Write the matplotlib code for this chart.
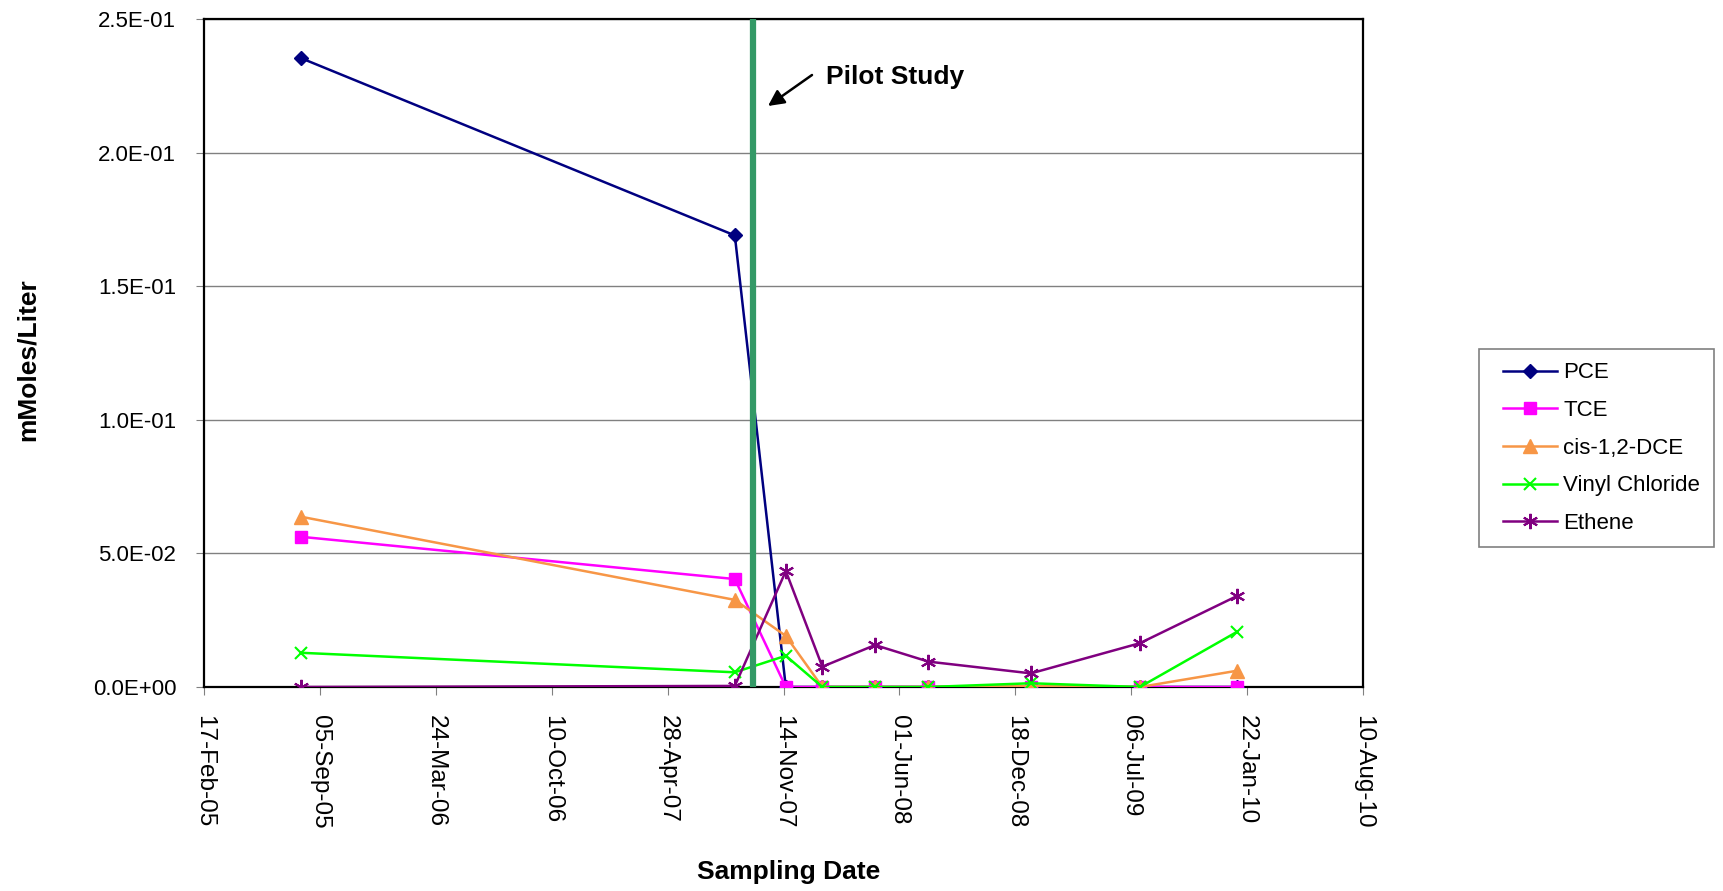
import matplotlib
matplotlib.use("Agg")
import matplotlib.pyplot as plt
import matplotlib.dates as mdates
import matplotlib.ticker as mticker
from matplotlib.legend_handler import HandlerLine2D
from matplotlib.lines import Line2D
from datetime import datetime, timedelta

plt.rcParams['font.family'] = ['Liberation Sans', 'DejaVu Sans']

# Sampling dates
dates = ["2005-08-04", "2007-08-22", "2007-11-18", "2008-01-20", "2008-04-20",
         "2008-07-21", "2009-01-14", "2009-07-21", "2010-01-05"]

# Concentrations, mMoles/Liter
pce = [0.2353, 0.1690, 0.0, 0.0, 0.0, 0.0, 0.0, 0.0, 0.0]
tce = [0.0562, 0.0404, 0.0, 0.0, 0.0, 0.0, 0.0, 0.0, 0.0]
dce = [0.0637, 0.0326, 0.0191, 0.0, 0.0, 0.0, 0.0003, 0.0, 0.0061]
vinyl_chloride = [0.0128, 0.0055, 0.0117, 0.0, 0.0, 0.0, 0.0014, 0.0, 0.0207]
ethene = [0.0, 0.0004, 0.0434, 0.0076, 0.0157, 0.0095, 0.0051, 0.0164, 0.0341]

pilot_date = "2007-09-23"
x_start = "2005-02-17"
x_end = "2010-08-10"
tick_step_days = 200

x = [datetime.strptime(d, "%Y-%m-%d") for d in dates]
start = datetime.strptime(x_start, "%Y-%m-%d")
end = datetime.strptime(x_end, "%Y-%m-%d")

W, H = 1723, 891
fig = plt.figure(figsize=(W / 100, H / 100), dpi=100)
ax = fig.add_axes([204 / W, 1 - 687 / H, (1363 - 204) / W, (687 - 19) / H])

lw = 1.8
ax.plot(x, pce, color="#000080", marker="D", markersize=7, lw=lw, label="PCE", zorder=3)
ax.plot(x, tce, color="#FF00FF", marker="s", markersize=9, lw=lw, label="TCE", zorder=4)
ax.plot(x, dce, color="#F79646", marker="^", markersize=10, lw=lw, label="cis-1,2-DCE", zorder=5)
ax.plot(x, vinyl_chloride, color="#00FF00", marker="x", markersize=9, mew=1.5, lw=lw,
        label="Vinyl Chloride", zorder=6)
ax.plot(x, ethene, color="#800080", marker=(6, 2, 0), markersize=11, mew=1.5, lw=lw,
        label="Ethene", zorder=7)

# Pilot study marker
pd_ = datetime.strptime(pilot_date, "%Y-%m-%d")
ax.axvline(pd_, color="#339966", lw=4.5, zorder=8)
ax.annotate("", xy=(768 / W, 1 - 106 / H), xycoords="figure fraction",
            xytext=(812 / W, 1 - 75 / H), textcoords="figure fraction",
            arrowprops=dict(arrowstyle="-|>", color="black", lw=1.8,
                            mutation_scale=24, shrinkA=0, shrinkB=0))
fig.text(826 / W, 1 - 77 / H, "Pilot Study", fontsize=19, fontweight="bold",
         ha="left", va="center")

ax.set_xlim(start, end)
ax.set_ylim(0, 0.25)
ticks = [start + timedelta(days=tick_step_days * i) for i in range(11)]
ax.set_xticks(ticks)
ax.xaxis.set_major_formatter(mdates.DateFormatter("%d-%b-%y"))
ax.yaxis.set_major_locator(mticker.MultipleLocator(0.05))
ax.yaxis.set_major_formatter(mticker.FuncFormatter(lambda v, p: f"{v:.1E}"))

ax.grid(axis="y", color="#808080", lw=1.0)
ax.set_axisbelow(True)
for s in ax.spines.values():
    s.set_color("black")
    s.set_linewidth(1.6)

ax.tick_params(axis="x", direction="out", length=6, color="#808080", labelsize=17.5,
               labelrotation=-90, pad=14)
ax.tick_params(axis="y", direction="out", length=6, color="#808080", labelsize=16, pad=14)
for lab in ax.get_xticklabels():
    lab.set_verticalalignment("top")
    lab.set_horizontalalignment("center")

fig.text(28 / W, 1 - 360 / H, "mMoles/Liter", fontsize=19, fontweight="bold",
         rotation=90, ha="center", va="center")
fig.text(789 / W, 1 - 872 / H, "Sampling Date", fontsize=19, fontweight="bold",
         ha="center", va="center")

leg = fig.legend(loc="upper left", bbox_to_anchor=(1479 / W, 1 - 349 / H),
                 bbox_transform=fig.transFigure, fontsize=16, frameon=True,
                 fancybox=False, edgecolor="#606060", handlelength=2.9,
                 labelspacing=0.75, borderpad=0.6, handletextpad=0.3, borderaxespad=0,
                 handler_map={Line2D: HandlerLine2D(xpad=0.5)})
leg.get_frame().set_linewidth(1.2)

fig.savefig("out.png", dpi=100)
